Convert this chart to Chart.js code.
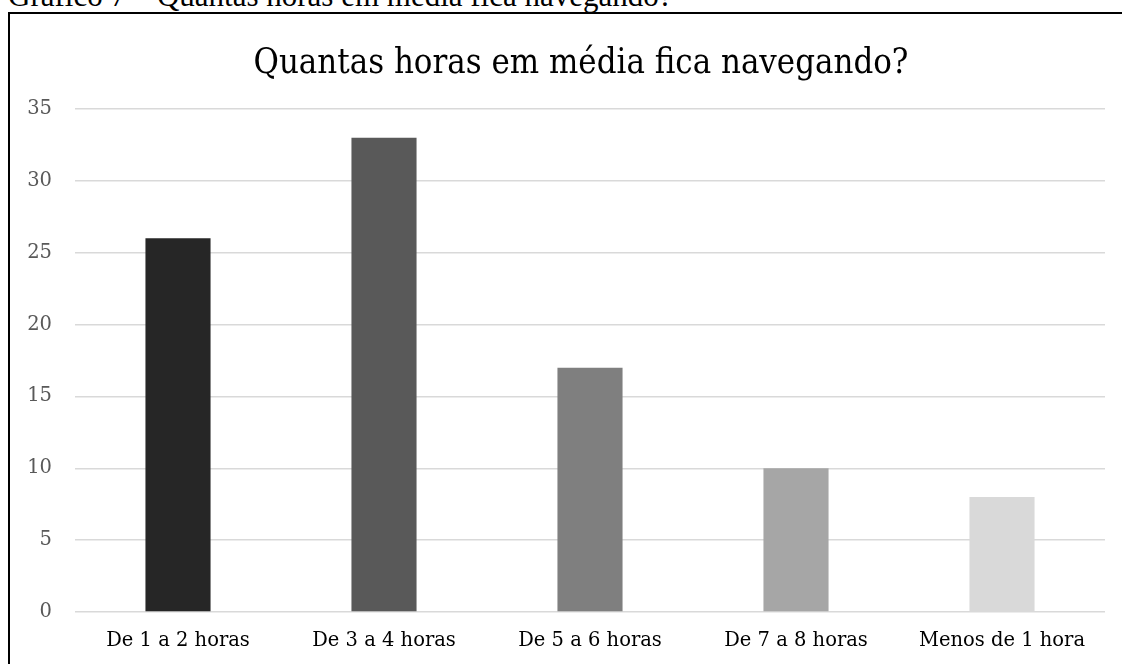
<!DOCTYPE html>
<html>
<head>
<meta charset="utf-8">
<script src="https://cdn.jsdelivr.net/npm/chart.js@4/dist/chart.umd.min.js"></script>
<style>
  html, body { margin: 0; padding: 0; background: #fff; overflow: hidden; }
  #caption {
    position: absolute; left: 8px; top: -20px;
    font-family: "Liberation Serif", serif; font-size: 31px; line-height: 31px;
    color: #000; white-space: nowrap;
  }
  #frame {
    position: absolute; left: 8px; top: 12px; width: 1200px; height: 700px;
    border-left: 2px solid #000; border-top: 2px solid #000;
  }
  #myChart { position: absolute; left: 0; top: 0; }
</style>
</head>
<body>
<div id="caption">Gráfico 7 – Quantas horas em média fica navegando?</div>
<div id="frame"></div>
<canvas id="myChart" width="1122" height="664"></canvas>
<script>
// data
const categories = ['De 1 a 2 horas', 'De 3 a 4 horas', 'De 5 a 6 horas', 'De 7 a 8 horas', 'Menos de 1 hora'];
const hours = [26, 33, 17, 10, 8];
const barColors = ['#262626', '#595959', '#7f7f7f', '#a6a6a6', '#d9d9d9'];
const chartTitle = 'Quantas horas em média fica navegando?';

// title drawn by hand so it can sit off the plot centre like the original,
// squeezed a bit sideways to get closer to the narrow original face
const titlePlugin = {
    id: 'ownTitle',
    afterDraw(chart) {
        const c = chart.ctx;
        c.save();
        c.translate(581, 73);
        c.scale(0.86, 1);
        c.font = '36px "DejaVu Serif"';
        c.fillStyle = '#000';
        c.textAlign = 'center';
        c.textBaseline = 'alphabetic';
        c.fillText(chartTitle, 0, 0);
        c.restore();
    }
};

let ctx = document.getElementById('myChart').getContext('2d');
let chart = new Chart(ctx, {
    type: 'bar',
    data: {
        labels: categories,
        datasets: [{
            label: 'Horas',
            backgroundColor: barColors,
            borderWidth: 0,
            data: hours,
            categoryPercentage: 1,
            barPercentage: 0.316
        }]
    },
    options: {
        responsive: false,
        animation: false,
        layout: { padding: { top: 109, right: 17, left: 0, bottom: 0 } },
        plugins: {
            legend: { display: false },
            tooltip: { enabled: false }
        },
        scales: {
            x: {
                grid: { display: false, drawTicks: false },
                border: { display: false },
                ticks: {
                    color: '#000',
                    font: { family: 'DejaVu Serif', size: 19.5 },
                    padding: 17,
                    maxRotation: 0
                },
                afterFit(scale) { scale.height = 52; }
            },
            y: {
                min: 0,
                max: 35,
                grid: { color: '#d9d9d9', lineWidth: 1.5, drawTicks: false },
                border: { display: false },
                ticks: {
                    stepSize: 5,
                    color: '#595959',
                    font: { family: 'DejaVu Serif', size: 19.5 },
                    padding: 23
                },
                afterFit(scale) { scale.width = 75; }
            }
        }
    },
    plugins: [titlePlugin]
});
</script>
</body>
</html>
